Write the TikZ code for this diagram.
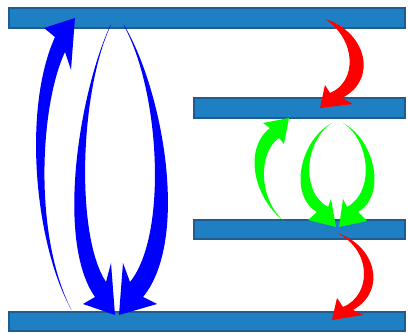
\documentclass[tikz,border=0pt]{standalone}
\begin{document}
\begin{tikzpicture}[x=0.75pt,y=-0.75pt,
  bar/.style={draw={rgb,255:red,31;green,93;blue,145},fill={rgb,255:red,30;green,127;blue,195},line width=1.5pt},
  barrow/.style={fill={rgb,255:red,0;green,0;blue,255}},
  garrow/.style={fill={rgb,255:red,0;green,255;blue,0}},
  rarrow/.style={fill={rgb,255:red,255;green,0;blue,0}}]
\useasboundingbox (0,0) rectangle (408,334);
% levels
\path[bar] (9,8) rectangle (405,28);
\path[bar] (194,98) rectangle (405,118);
\path[bar] (194,220) rectangle (405,239);
\path[bar] (9,312) rectangle (405,331);
% blue arrow up (left)
\fill[barrow] (71.5,310) .. controls (35,245) and (22,110) .. (55,37)
  -- (44,28) -- (75,18) -- (71,70) -- (65,52)
  .. controls (40,105) and (33,235) .. (71.5,310) -- cycle;
% blue arrow down (left of pair)
\fill[barrow] (110.5,25) .. controls (80,90) and (55,240) .. (95,297)
  -- (83,304) -- (115,315) -- (111,263) -- (106,282)
  .. controls (75,235) and (80,90) .. (111,25) -- cycle;
% blue arrow down (right of pair)
\fill[barrow] (124,25) .. controls (163,90) and (190,240) .. (143,297)
  -- (157,304) -- (119,315) -- (123,263) -- (130,282)
  .. controls (168,235) and (160,90) .. (123.5,25) -- cycle;
% green arrow up
\fill[garrow] (285,222) .. controls (255,200) and (242,150) .. (270,128)
  -- (263,123) -- (289,118) -- (284,144) -- (279,138)
  .. controls (258,152) and (258,200) .. (285,222) -- cycle;
% green arrow down (left)
\fill[garrow] (332,123) .. controls (300,140) and (288,195) .. (317,212)
  -- (308,220) -- (336,227) -- (331,199) -- (328,207)
  .. controls (300,192) and (305,140) .. (332,123) -- cycle;
% green arrow down (right)
\fill[garrow] (343,123) .. controls (375,140) and (387,195) .. (358,212)
  -- (367,221) -- (339,227) -- (343,199) -- (347,207)
  .. controls (375,192) and (370,140) .. (343,123) -- cycle;
% red arrow top
\fill[rarrow] (325,19) .. controls (367,32) and (378,80) .. (342,98)
  -- (353,104) -- (320,108) -- (325,85) -- (330,93)
  .. controls (357,82) and (357,40) .. (325,19) -- cycle;
% red arrow bottom
\fill[rarrow] (337,233) .. controls (375,245) and (388,290) .. (353,310)
  -- (363,315) -- (332,320) -- (337,298) -- (343,307)
  .. controls (372,295) and (372,250) .. (337,233) -- cycle;
\end{tikzpicture}
\end{document}
